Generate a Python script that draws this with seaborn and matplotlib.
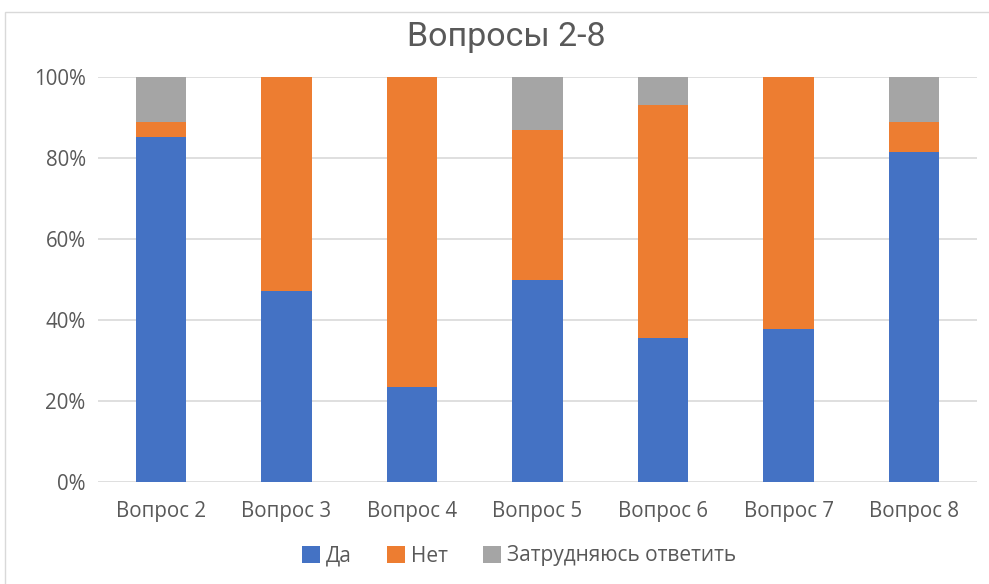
import numpy as np
import pandas as pd
import matplotlib
matplotlib.use("Agg")
import matplotlib.pyplot as plt
import seaborn as sns
from matplotlib.patches import Rectangle

questions = ["Вопрос 2", "Вопрос 3", "Вопрос 4", "Вопрос 5", "Вопрос 6", "Вопрос 7", "Вопрос 8"]
da = [85.1, 47.2, 23.4, 50.0, 35.6, 37.9, 81.5]
net = [3.7, 52.8, 76.6, 36.9, 57.5, 62.1, 7.3]
zatr = [100 - a - b for a, b in zip(da, net)]

colors = {"Да": "#4472C4", "Нет": "#ED7D31", "Затрудняюсь ответить": "#A5A5A5"}
text_color = "#595959"

df = pd.DataFrame({"question": questions, "Да": da, "Нет": net, "Затрудняюсь ответить": zatr})
# cumulative tops for stacking (draw tallest first, then overlap)
df["top_net"] = df["Да"] + df["Нет"]
df["top_all"] = df["top_net"] + df["Затрудняюсь ответить"]

sns.set_theme(style="white")
plt.rcParams["font.family"] = ["Open Sans", "DejaVu Sans"]

fig = plt.figure(figsize=(9.89, 5.84), dpi=100)
ax = fig.add_axes([98.25 / 989, 1 - 482 / 584, 878.5 / 989, 405 / 584])

sns.barplot(data=df, x="question", y="top_all", color=colors["Затрудняюсь ответить"],
            width=0.4, saturation=1, ax=ax, label="Затрудняюсь ответить", zorder=3, linewidth=0)
sns.barplot(data=df, x="question", y="top_net", color=colors["Нет"],
            width=0.4, saturation=1, ax=ax, label="Нет", zorder=3, linewidth=0)
sns.barplot(data=df, x="question", y="Да", color=colors["Да"],
            width=0.4, saturation=1, ax=ax, label="Да", zorder=3, linewidth=0)

handles, labels = ax.get_legend_handles_labels()
if ax.get_legend() is not None:
    ax.get_legend().remove()

ax.set_xlim(-0.5, 6.5)
ax.set_ylim(0, 100)
ax.set_yticks(np.arange(0, 101, 20))
ax.set_yticklabels([f"{v}%" for v in range(0, 101, 20)])
ax.yaxis.grid(True, color="#D9D9D9", linewidth=1.2, zorder=0)
ax.set_axisbelow(True)
ax.set_xlabel("")
ax.set_ylabel("")
for s in ax.spines.values():
    s.set_visible(False)
ax.tick_params(axis="both", length=0, labelsize=14.8, colors=text_color)
ax.tick_params(axis="x", pad=14)
ax.tick_params(axis="y", pad=9)

fig.text(0.512, 1 - 37 / 584, "Вопросы 2-8", ha="center", va="center",
         fontsize=24.5, color=text_color, family=["Roboto", "DejaVu Sans"])

order = ["Да", "Нет", "Затрудняюсь ответить"]
hmap = dict(zip(labels, handles))
fig.legend([hmap[k] for k in order], order, loc="center", ncol=3,
           bbox_to_anchor=(0.525, 1 - 556 / 584), frameon=False,
           fontsize=15, labelcolor=text_color, handlelength=0.85, handleheight=0.85,
           handletextpad=0.3, columnspacing=1.7)

# light chart frame
fig.patches.append(Rectangle((5 / 989, -0.05), 1.05, 1 - 12 / 584 + 0.05,
                             transform=fig.transFigure, fill=False,
                             edgecolor="#D9D9D9", linewidth=1))

fig.savefig("out.png", dpi=100)
